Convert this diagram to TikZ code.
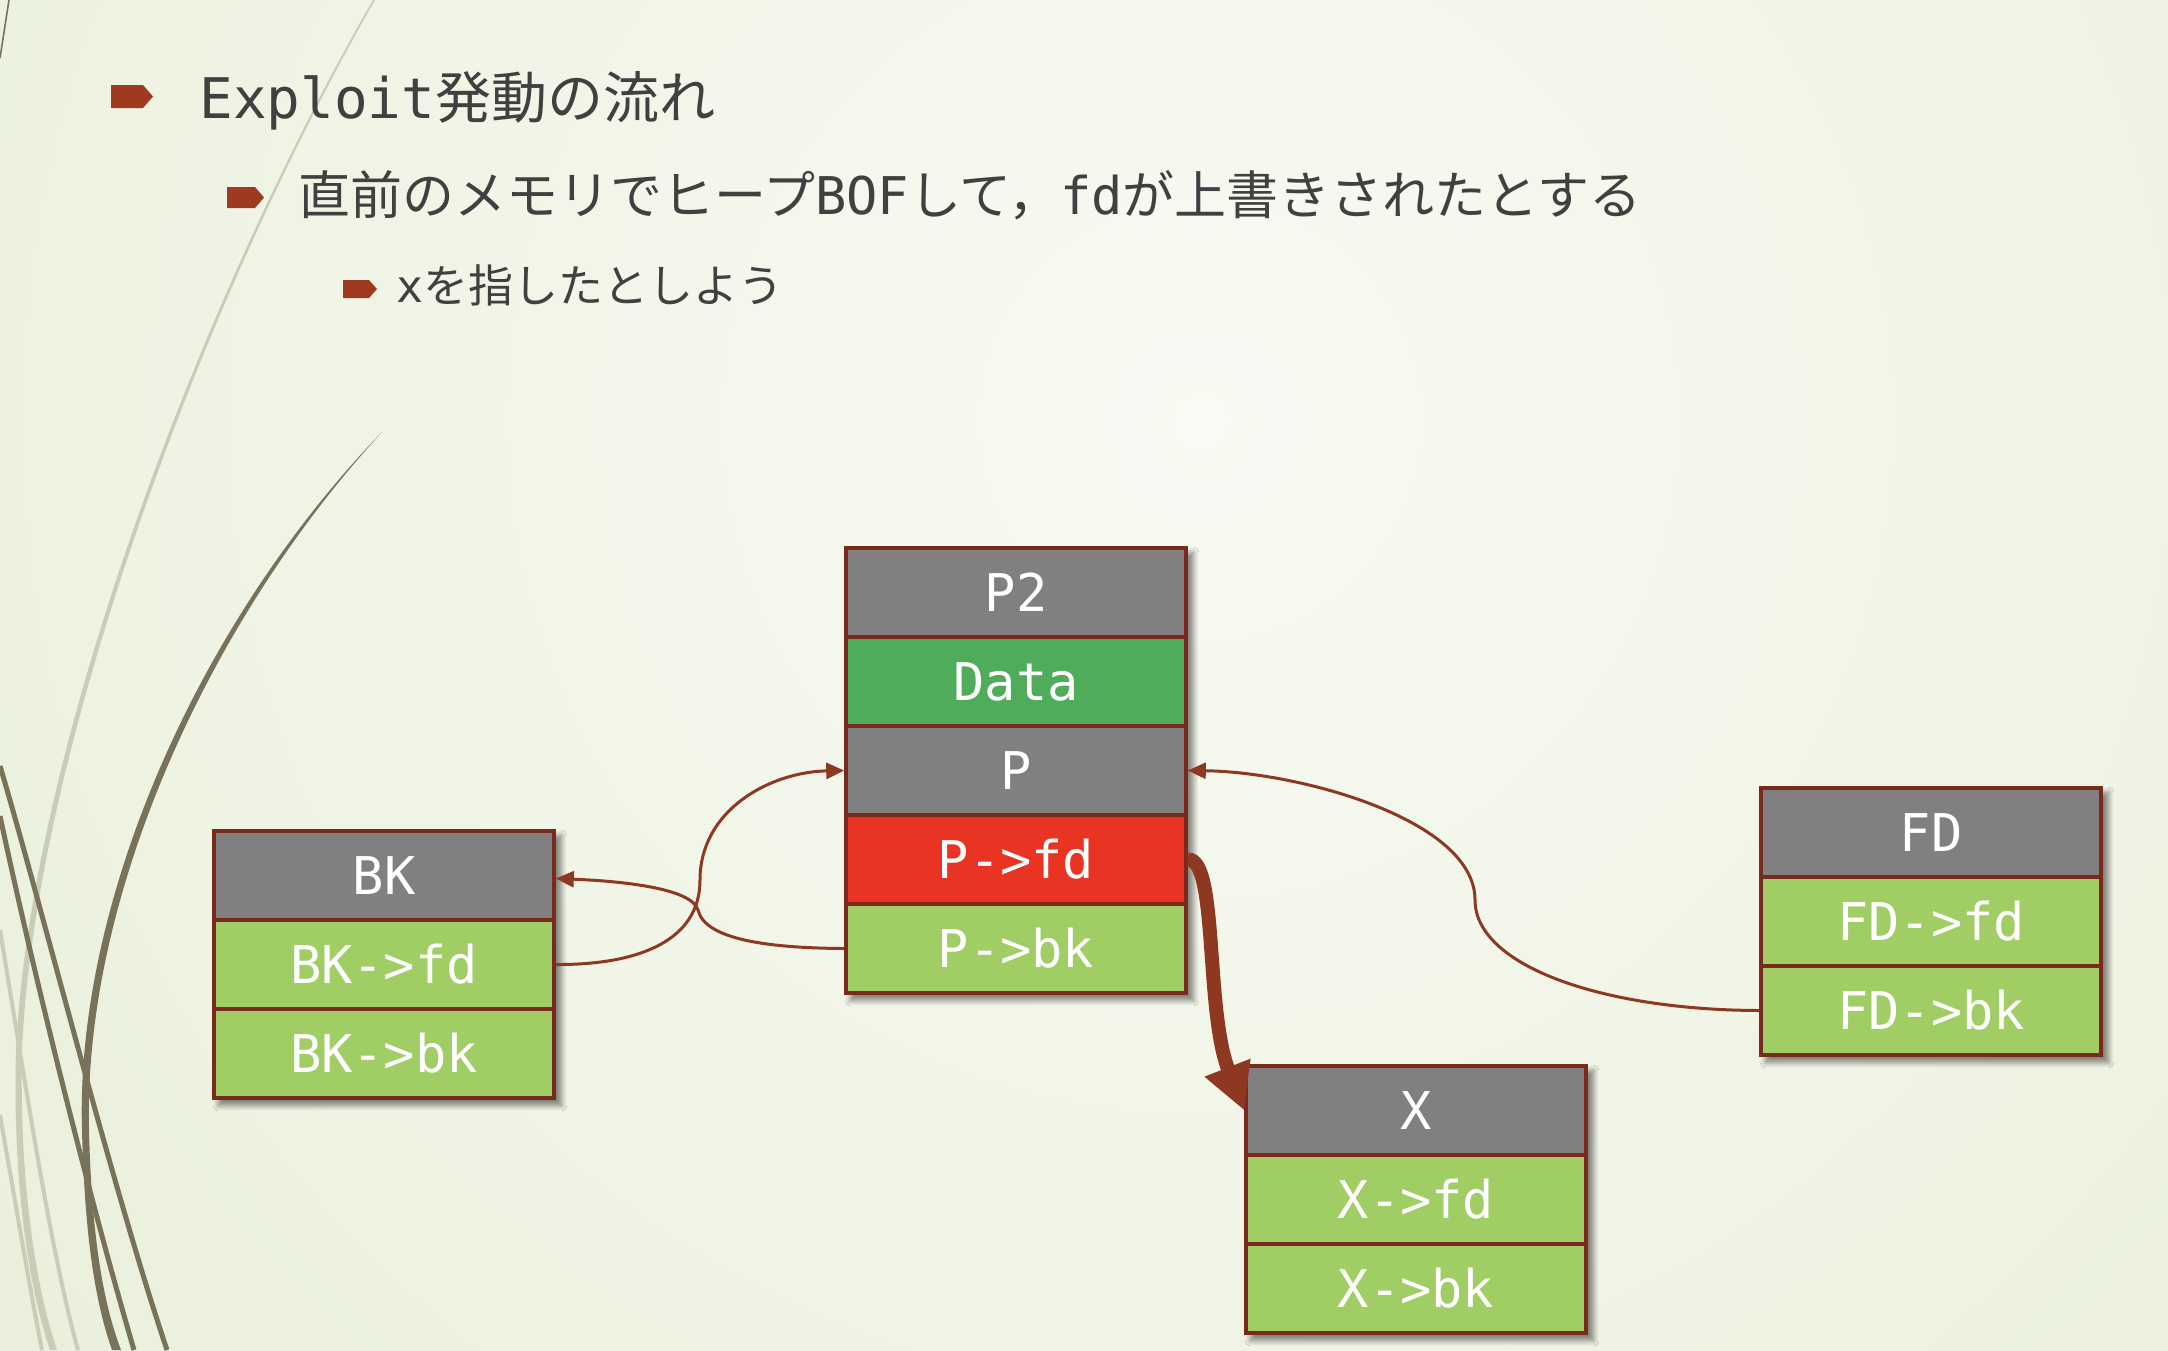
\documentclass[tikz,border=0pt]{standalone}
\usepackage{fontspec}
\setmonofont{DejaVu Sans Mono}
\newfontfamily\jp{Noto Sans CJK JP}
\usetikzlibrary{arrows.meta,shadows.blur,backgrounds}
\definecolor{bgout}{HTML}{DCE6C4}
\definecolor{bgin}{HTML}{F8FAF3}
\definecolor{hdr}{HTML}{808080}
\definecolor{datag}{HTML}{4EAC5B}
\definecolor{fieldg}{HTML}{A1CD65}
\definecolor{hot}{HTML}{E93323}
\definecolor{edgec}{HTML}{7A2A1C}
\definecolor{linkc}{HTML}{8E3822}
\definecolor{bulletc}{HTML}{9E3A1F}
\definecolor{txt}{HTML}{404040}
\definecolor{stemdark}{HTML}{777259}
\definecolor{stemlight}{HTML}{C9CDB6}
\begin{document}
\begin{tikzpicture}[x=0.5pt,y=-0.5pt,
  cell/.style={draw=edgec, line width=1.8pt, minimum width=170pt, minimum height=44.5pt,
    inner sep=0pt, text=white, font=\ttfamily\fontsize{26}{26}\selectfont,
    text height=19pt, text depth=0pt},
  hdrcell/.style={cell, fill=hdr},
  fcell/.style={cell, fill=fieldg},
  ptr/.style={draw=linkc, line width=1.5pt, -{Triangle[length=9pt,width=8pt]}},
  fat/.style={draw=linkc, line width=7pt, -{Triangle[length=23pt,width=23pt]}},
  boxshadow/.style={fill=hdr, blur shadow={shadow xshift=3pt, shadow yshift=-3pt,
    shadow blur radius=2.5pt, shadow blur steps=8, shadow opacity=45}},
  label/.style={anchor=base west, inner sep=0pt, text=txt},
  bul/.style={fill=bulletc}
]
\useasboundingbox (0,0) rectangle (2168,1350);
% background
\begin{scope}[on background layer]
  \fill[bgout] (0,0) rectangle (2168,1350);
  \begin{scope}
    \clip (0,0) rectangle (2168,1350);
    \shade[inner color=bgin, outer color=bgout] (1200,420) circle [radius=1500pt];
  \end{scope}
\end{scope}
% decorative stems
\fill[stemlight] (373,0) .. controls (200,300) and (30,750) .. (16,1050)
   .. controls (12,1200) and (33,1300) .. (50,1350) -- (57,1350)
   .. controls (40,1300) and (19,1200) .. (22,1050)
   .. controls (35,750) and (203,300) .. (375,0) -- cycle;
\draw[stemlight, line width=2pt] (0,930) .. controls (25,1080) and (50,1250) .. (78,1350);
\draw[stemlight, line width=2pt] (0,1115) .. controls (15,1200) and (30,1290) .. (42,1350);
\draw[stemdark, line width=0.8pt] (9,0) -- (0,58);
\fill[stemdark] (382,432) .. controls (200,620) and (75,900) .. (82,1130)
   .. controls (85,1250) and (98,1310) .. (112,1350) -- (121,1350)
   .. controls (106,1310) and (92,1250) .. (89,1130)
   .. controls (83,900) and (206,624) .. (382,432) -- cycle;
\draw[stemdark, line width=2.5pt] (0,766) .. controls (40,900) and (110,1180) .. (167,1350);
\draw[stemdark, line width=2.5pt] (0,816) .. controls (35,980) and (90,1200) .. (134,1350);
% bullets and texts
\fill[bul] (111,85) -- (143,85) -- (153,96.5) -- (143,108) -- (111,108) -- cycle;
\fill[bul] (227,187) -- (255,187) -- (264,197.5) -- (255,208) -- (227,208) -- cycle;
\fill[bul] (343,280) -- (369,280) -- (377,289) -- (369,298) -- (343,298) -- cycle;
\node[label, font=\fontsize{28}{28}\selectfont] (t1) at (199,118) {\ttfamily Exploit\jp 発動の流れ};
\node[label, font=\fontsize{26}{26}\selectfont] (t2) at (298,214) {\jp 直前のメモリでヒープ\ttfamily BOF\jp して，\ttfamily fd\jp が上書きされたとする};
\node[label, font=\fontsize{22.5}{22.5}\selectfont] (t3) at (396,302) {\ttfamily x\jp を指したとしよう};
% BK chunk
\node[hdrcell] (bk) at (384,875.5) {BK};
\node[fcell] (bkfd) at (384,964.5) {BK->fd};
\node[fcell] (bkbk) at (384,1053.5) {BK->bk};
% P chunk
\node[hdrcell] (p2) at (1016,592.5) {P2};
\node[cell, fill=datag] (data) at (1016,681.5) {Data};
\node[hdrcell] (p) at (1016,770.5) {P};
\node[cell, fill=hot] (pfd) at (1016,859.5) {P->fd};
\node[fcell] (pbk) at (1016,948.5) {P->bk};
% FD chunk
\node[hdrcell] (fd) at (1931,832.5) {FD};
\node[fcell] (fdfd) at (1931,921.5) {FD->fd};
\node[fcell] (fdbk) at (1931,1010.5) {FD->bk};
% X chunk
\node[hdrcell] (x) at (1416,1110.5) {X};
\node[fcell] (xfd) at (1416,1199.5) {X->fd};
\node[fcell] (xbk) at (1416,1288.5) {X->bk};
% connectors
\draw[ptr] (bkfd.east) .. controls (640,965) and (700,940) .. (700,880)
   .. controls (700,810) and (770,772) .. (p.west);
\draw[ptr] (pbk.west) .. controls (770,948) and (705,940) .. (698,910)
   .. controls (692,888) and (620,881) .. ([yshift=-1.5pt]bk.east);
\draw[ptr] (fdbk.west) .. controls (1600,1010) and (1475,965) .. (1475,900)
   .. controls (1475,820) and (1300,772) .. (p.east);
\draw[fat] (pfd.east) .. controls (1218,858) and (1205,1010) .. (x.west);
% shadows
\begin{scope}[on background layer]
  \foreach \a/\b in {bk/bkbk, p2/pbk, fd/fdbk, x/xbk}
    \path[boxshadow] (\a.north west) rectangle (\b.south east);
\end{scope}
\end{tikzpicture}
\end{document}
